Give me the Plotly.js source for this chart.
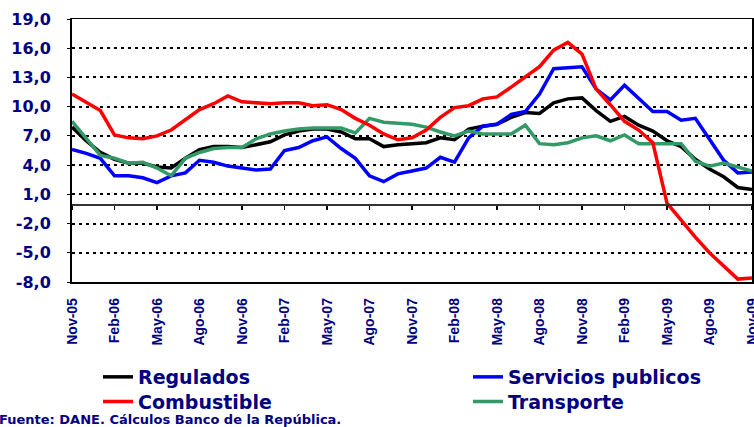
<!DOCTYPE html>
<html><head><meta charset="utf-8">
<script src="https://cdn.plot.ly/plotly-3.0.1.min.js"></script>
<style>html,body{margin:0;padding:0;background:#fff;} #chart{width:754px;height:427px;}</style>
</head><body><div id="chart"></div>
<script>
const months = ["Nov-05","Dic-05","Ene-06","Feb-06","Mar-06","Abr-06","May-06","Jun-06","Jul-06","Ago-06","Sep-06","Oct-06",
"Nov-06","Dic-06","Ene-07","Feb-07","Mar-07","Abr-07","May-07","Jun-07","Jul-07","Ago-07","Sep-07","Oct-07",
"Nov-07","Dic-07","Ene-08","Feb-08","Mar-08","Abr-08","May-08","Jun-08","Jul-08","Ago-08","Sep-08","Oct-08",
"Nov-08","Dic-08","Ene-09","Feb-09","Mar-09","Abr-09","May-09","Jun-09","Jul-09","Ago-09","Sep-09","Oct-09","Nov-09"];
const regulados = [7.9,6.5,5.3,4.6,4.2,4.2,3.8,3.7,4.7,5.6,5.9,5.9,
5.8,6.1,6.4,7.1,7.5,7.7,7.7,7.4,6.7,6.7,5.9,6.1,
6.2,6.3,6.8,6.6,7.7,8.0,8.2,8.9,9.4,9.3,10.4,10.8,
10.9,9.6,8.5,9.0,8.1,7.5,6.5,5.9,4.6,3.6,2.8,1.7,1.5];
const serviciosPublicos = [5.6,5.2,4.7,2.9,2.9,2.7,2.2,2.9,3.2,4.5,4.3,3.9,
3.7,3.5,3.6,5.5,5.8,6.5,6.9,5.7,4.7,2.9,2.3,3.1,
3.4,3.7,4.8,4.3,6.8,8.0,8.2,9.2,9.5,11.3,13.9,14.0,
14.1,11.8,10.7,12.2,10.9,9.5,9.5,8.6,8.8,6.7,4.5,3.2,3.3];
const combustible = [11.3,10.4,9.6,7.1,6.8,6.7,7.0,7.6,8.7,9.7,10.3,11.1,
10.5,10.4,10.3,10.4,10.4,10.1,10.2,9.7,8.8,8.1,7.2,6.6,
6.8,7.6,8.9,9.9,10.1,10.8,11.0,12.0,13.1,14.1,15.8,16.6,
15.4,11.8,10.2,8.5,7.6,6.3,0.1,-1.7,-3.4,-5.0,-6.3,-7.7,-7.6];
const transporte = [8.5,6.8,5.0,4.7,4.2,4.3,3.7,2.9,4.7,5.3,5.7,5.8,
5.8,6.7,7.2,7.5,7.7,7.8,7.8,7.8,7.3,8.8,8.4,8.3,
8.2,7.9,7.4,7.0,7.5,7.2,7.2,7.2,8.1,6.2,6.1,6.3,
6.8,7.0,6.5,7.1,6.2,6.2,6.2,6.2,4.4,3.9,4.2,3.8,3.4];
const xTickLabels = ["Nov-05","Feb-06","May-06","Ago-06","Nov-06","Feb-07","May-07","Ago-07","Nov-07",
"Feb-08","May-08","Ago-08","Nov-08","Feb-09","May-09","Ago-09","Nov-09"];
const yTickVals = [19,16,13,10,7,4,1,-2,-5,-8];
const yTickText = ["19,0","16,0","13,0","10,0","7,0","4,0","1,0","-2,0","-5,0","-8,0"];
const yRange = [-8,19];
const sourceText = "Fuente: DANE. Cálculos Banco de la República.";

const navy = '#000080';
const xIdx = months.map((m,i)=>i);
const tickIdx = xTickLabels.map(l => months.indexOf(l));
const xRange = [0, months.length-1];

// plot area in pixels (for placing legends/annotation in paper coords)
const W = 754, H = 427, mL = 72, mR = 2, mT = 19, mB = 145;
const pw = W - mL - mR, ph = H - mT - mB;
const px = v => (v - mL) / pw;
const py = v => (H - mB - v) / ph;

function tr(name, y, color, legend, xaxis){
  return {type:'scatter', mode:'lines', name:name, x:xIdx, y:y, legend:legend, xaxis:xaxis,
    line:{color:color, width:3.5}, hoverinfo:'skip'};
}
const data = [
  tr('Regulados', regulados, '#000000', 'legend', 'x'),
  tr('Servicios publicos', serviciosPublicos, '#0000FF', 'legend2', 'x'),
  tr('Transporte', transporte, '#339966', 'legend4', 'x'),
  tr('Combustible', combustible, '#FF0000', 'legend3', 'x2')
];
const legFont = {family:'DejaVu Sans', size:19, color:navy, weight:'bold'};
function leg(xpx, ypx){
  return {x:px(xpx), xanchor:'left', y:py(ypx), yanchor:'middle', orientation:'v',
    font:legFont, bgcolor:'rgba(0,0,0,0)', borderwidth:0, tracegroupgap:0};
}
const layout = {
  width:W, height:H,
  margin:{l:mL, r:mR, t:mT, b:mB, pad:0},
  paper_bgcolor:'#ffffff', plot_bgcolor:'#ffffff',
  showlegend:true,
  xaxis:{type:'linear', range:xRange, tickvals:tickIdx, ticktext:xTickLabels, tickangle:-90,
    ticks:'', ticklabelstandoff:9, ticklabeloverflow:'allow',
    tickfont:{family:'Liberation Sans', size:14, color:navy, weight:'bold'},
    showgrid:false, zeroline:false, showline:true, mirror:true, linecolor:'#000', linewidth:1.5},
  xaxis2:{overlaying:'x', anchor:'free', position:(0-yRange[0])/(yRange[1]-yRange[0]), side:'bottom',
    type:'linear', range:xRange, tickvals:tickIdx, showticklabels:false, ticks:'outside', ticklen:4,
    tickcolor:'#000', tickwidth:1.5, showline:true, linecolor:'#333', linewidth:1.5, showgrid:false, zeroline:false},
  yaxis:{range:yRange, tickvals:yTickVals, ticktext:yTickText, ticks:'outside', ticklen:3, tickcolor:'#000',
    ticklabelstandoff:13,
    tickfont:{family:'DejaVu Sans', size:16, color:navy, weight:'bold'},
    showgrid:true, gridcolor:'#000', gridwidth:2, griddash:'3px,4px', zeroline:false,
    showline:true, mirror:true, linecolor:'#000', linewidth:2},
  legend: leg(98, 377),
  legend2: leg(468, 377),
  legend3: leg(98, 401.7),
  legend4: leg(468, 401.7),
  annotations:[{text:sourceText, xref:'paper', yref:'paper', x:px(-3), y:py(419),
    xanchor:'left', yanchor:'middle', showarrow:false,
    font:{family:'DejaVu Sans', size:13, color:navy, weight:'bold'}}]
};
Plotly.newPlot('chart', data, layout, {displayModeBar:false, staticPlot:true});
</script></body></html>
